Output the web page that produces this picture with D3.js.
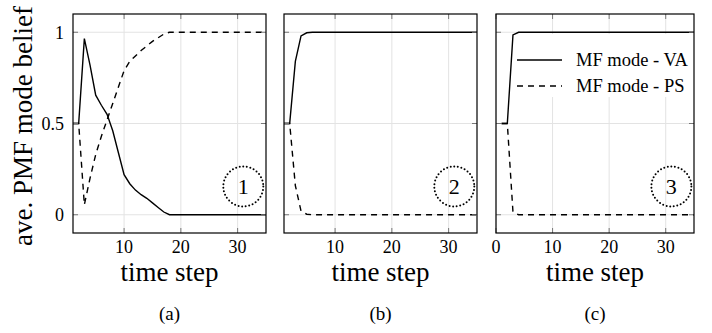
<!DOCTYPE html>
<html>
<head>
<meta charset="utf-8">
<script src="https://cdn.jsdelivr.net/npm/d3@7"></script>
<style>
  body { margin: 0; background: #fff; }
</style>
</head>
<body>
<svg id="chart" width="712" height="333"></svg>
<script>
// time steps and the two belief series for each of the three runs
const steps = [1, 2, 3, 4, 5, 6, 7, 8, 9, 10, 11, 12, 13, 14, 15, 16, 17, 18,
  19, 20, 21, 22, 23, 24, 25, 26, 27, 28, 29, 30, 31, 32, 33, 34, 35];

const vaA = [0.5, 0.5, 0.965, 0.82, 0.655, 0.6, 0.55, 0.46, 0.34, 0.22, 0.17, 0.135, 0.11, 0.09, 0.065, 0.04, 0.015, 0,
  0, 0, 0, 0, 0, 0, 0, 0, 0, 0, 0, 0, 0, 0, 0, 0, 0];
const psA = [0.5, 0.5, 0.055, 0.2, 0.33, 0.43, 0.52, 0.61, 0.7, 0.79, 0.84, 0.87, 0.9, 0.925, 0.95, 0.97, 0.99, 1,
  1, 1, 1, 1, 1, 1, 1, 1, 1, 1, 1, 1, 1, 1, 1, 1, 1];
const vaB = [0.5, 0.5, 0.84, 0.98, 0.997, 1, 1, 1, 1, 1, 1, 1, 1, 1, 1, 1, 1, 1,
  1, 1, 1, 1, 1, 1, 1, 1, 1, 1, 1, 1, 1, 1, 1, 1, 1];
const psB = [0.5, 0.5, 0.16, 0.02, 0.003, 0, 0, 0, 0, 0, 0, 0, 0, 0, 0, 0, 0, 0,
  0, 0, 0, 0, 0, 0, 0, 0, 0, 0, 0, 0, 0, 0, 0, 0, 0];
const vaC = [0.5, 0.5, 0.985, 1, 1, 1, 1, 1, 1, 1, 1, 1, 1, 1, 1, 1, 1, 1,
  1, 1, 1, 1, 1, 1, 1, 1, 1, 1, 1, 1, 1, 1, 1, 1, 1];
const psC = [0.5, 0.5, 0.015, 0, 0, 0, 0, 0, 0, 0, 0, 0, 0, 0, 0, 0, 0, 0,
  0, 0, 0, 0, 0, 0, 0, 0, 0, 0, 0, 0, 0, 0, 0, 0, 0];

const yTicks = [0, 0.5, 1];
const yTickLabels = ["0", "0.5", "1"];
const seriesNames = ["MF mode - VA", "MF mode - PS"];
const captions = ["(a)", "(b)", "(c)"];
const marks = ["1", "2", "3"];
const markAt = [31, 0.155]; // centre of the dotted circle (time step, belief)

const panels = [
  { left: 73, right: 266, domain: [1, 35], ticks: [10, 20, 30], va: vaA, ps: psA },
  { left: 284, right: 477, domain: [1, 35], ticks: [10, 20, 30], va: vaB, ps: psB },
  { left: 496, right: 694, domain: [0, 35], ticks: [0, 10, 20, 30], va: vaC, ps: psC }
];

const font = "Liberation Serif";
const plotTop = 14, plotBottom = 233;
const y = d3.scaleLinear().domain([-0.1, 1.1]).range([plotBottom, plotTop]);
const svg = d3.select("#chart");

panels.forEach((p, i) => {
  const x = d3.scaleLinear().domain(p.domain).range([p.left, p.right]);
  const g = svg.append("g");

  // grid
  g.selectAll(".gx").data(p.ticks).join("line")
    .attr("x1", d => x(d)).attr("x2", d => x(d))
    .attr("y1", plotTop).attr("y2", plotBottom)
    .attr("stroke", "#e3e3e3").attr("stroke-width", 1);
  g.selectAll(".gy").data(yTicks).join("line")
    .attr("x1", p.left).attr("x2", p.right)
    .attr("y1", d => y(d)).attr("y2", d => y(d))
    .attr("stroke", "#e3e3e3").attr("stroke-width", 1);

  // legend background sits under the curves in the last panel
  if (i === 2) {
    g.append("rect").attr("x", 512).attr("y", 34).attr("width", p.right - 512).attr("height", 63)
      .attr("fill", "#fff");
  }

  const line = d3.line().x((d, k) => x(steps[k])).y(d => y(d));
  g.append("path").attr("d", line(p.ps))
    .attr("fill", "none").attr("stroke", "#000").attr("stroke-width", 1.4)
    .attr("stroke-dasharray", "6,5");
  g.append("path").attr("d", line(p.va))
    .attr("fill", "none").attr("stroke", "#000").attr("stroke-width", 1.4);

  // inward ticks on all four sides
  const tk = 5;
  p.ticks.forEach(t => {
    g.append("line").attr("x1", x(t)).attr("x2", x(t)).attr("y1", plotBottom).attr("y2", plotBottom - tk)
      .attr("stroke", "#777");
    g.append("line").attr("x1", x(t)).attr("x2", x(t)).attr("y1", plotTop).attr("y2", plotTop + tk)
      .attr("stroke", "#777");
  });
  yTicks.forEach(t => {
    g.append("line").attr("x1", p.left).attr("x2", p.left + tk).attr("y1", y(t)).attr("y2", y(t))
      .attr("stroke", "#777");
    g.append("line").attr("x1", p.right).attr("x2", p.right - tk).attr("y1", y(t)).attr("y2", y(t))
      .attr("stroke", "#777");
  });

  g.append("rect").attr("x", p.left).attr("y", plotTop)
    .attr("width", p.right - p.left).attr("height", plotBottom - plotTop)
    .attr("fill", "none").attr("stroke", "#000").attr("stroke-width", 1.2);

  // x tick labels
  g.selectAll(".xl").data(p.ticks).join("text")
    .attr("x", d => x(d)).attr("y", 252.5)
    .attr("text-anchor", "middle").attr("font-family", font).attr("font-size", 18)
    .text(d => d);

  g.append("text").attr("x", (p.left + p.right) / 2).attr("y", 281)
    .attr("text-anchor", "middle").attr("font-family", font).attr("font-size", 27).text("time step");

  g.append("text").attr("x", (p.left + p.right) / 2).attr("y", 320)
    .attr("text-anchor", "middle").attr("font-family", font).attr("font-size", 19).text(captions[i]);

  // dotted circle marker
  g.append("circle").attr("cx", x(markAt[0])).attr("cy", y(markAt[1])).attr("r", 20)
    .attr("fill", "none").attr("stroke", "#000").attr("stroke-width", 2)
    .attr("stroke-linecap", "round").attr("stroke-dasharray", "0,3.6");
  g.append("text").attr("x", x(markAt[0])).attr("y", y(markAt[1]) + 7.5)
    .attr("text-anchor", "middle").attr("font-family", font).attr("font-size", 22).text(marks[i]);

  if (i === 0) {
    g.selectAll(".yl").data(yTicks).join("text")
      .attr("x", 64).attr("y", d => y(d)).attr("dy", "0.35em")
      .attr("text-anchor", "end").attr("font-family", font).attr("font-size", 18)
      .text((d, k) => yTickLabels[k]);
  }

  if (i === 2) {
    const rows = [60, 86];
    seriesNames.forEach((name, k) => {
      g.append("line").attr("x1", 517).attr("x2", 562).attr("y1", rows[k]).attr("y2", rows[k])
        .attr("stroke", "#000").attr("stroke-width", 1.4)
        .attr("stroke-dasharray", k === 1 ? "6,5" : null);
      g.append("text").attr("x", 576).attr("y", rows[k] + 5.5)
        .attr("font-family", font).attr("font-size", 18.5).text(name);
    });
  }
});

svg.append("text")
  .attr("transform", "translate(32,246) rotate(-90)")
  .attr("font-family", font).attr("font-size", 27).text("ave. PMF mode belief");
</script>
</body>
</html>
